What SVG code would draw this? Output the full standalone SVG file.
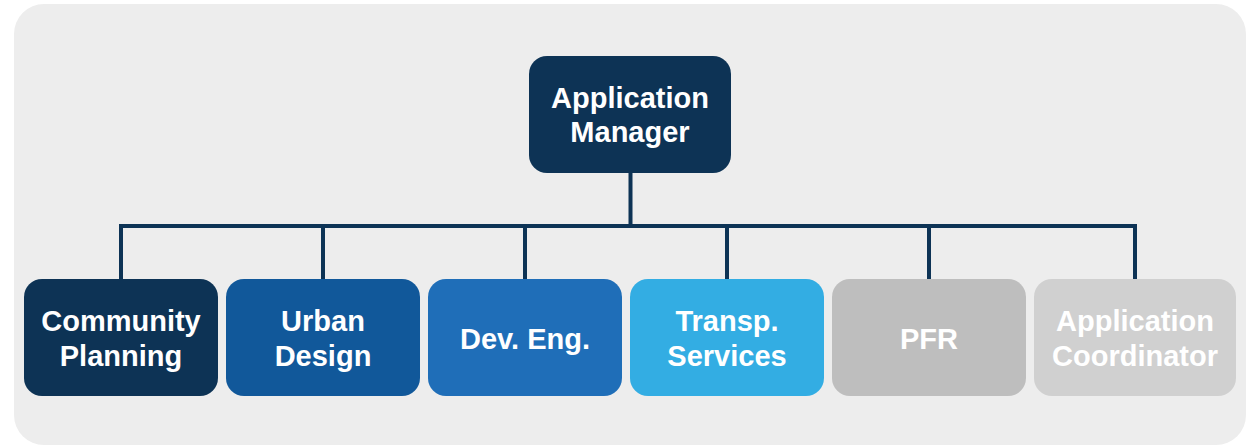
<svg xmlns="http://www.w3.org/2000/svg" width="1248" height="447" viewBox="0 0 1248 447">
  <style>
    .lbl { font-family: "Liberation Sans", Arial, sans-serif; font-weight: bold; font-size: 29px; fill: #ffffff; text-anchor: middle; }
    .wire { fill: none; stroke: #0d3355; stroke-width: 4; stroke-linecap: butt; stroke-linejoin: miter; }
  </style>
  <rect width="1248" height="447" fill="#ffffff"/>
  <!-- background panel -->
  <rect x="14" y="4" width="1232" height="441" rx="30" fill="#ededed"/>

  <!-- org chart connectors -->
  <g id="connectors">
    <path class="wire" d="M630.5 173 V226"/>
    <path class="wire" d="M121 281 V226 H1135 V281"/>
    <path class="wire" d="M323 226 V281 M525 226 V281 M727 226 V281 M929 226 V281"/>
  </g>

  <g id="application-manager">
    <rect x="529" y="56" width="202" height="117" rx="18" fill="#0d3355"/>
    <text class="lbl" x="630" y="108">Application</text>
    <text class="lbl" x="630" y="142">Manager</text>
  </g>

  <g id="community-planning">
    <rect x="24" y="279" width="194" height="117" rx="18" fill="#0d3355"/>
    <text class="lbl" x="121" y="331">Community</text>
    <text class="lbl" x="121" y="366">Planning</text>
  </g>

  <g id="urban-design">
    <rect x="226" y="279" width="194" height="117" rx="18" fill="#11589a"/>
    <text class="lbl" x="323" y="331">Urban</text>
    <text class="lbl" x="323" y="366">Design</text>
  </g>

  <g id="dev-eng">
    <rect x="428" y="279" width="194" height="117" rx="18" fill="#1f6eb8"/>
    <text class="lbl" x="525" y="349">Dev. Eng.</text>
  </g>

  <g id="transp-services">
    <rect x="630" y="279" width="194" height="117" rx="18" fill="#33ade3"/>
    <text class="lbl" x="727" y="331">Transp.</text>
    <text class="lbl" x="727" y="366">Services</text>
  </g>

  <g id="pfr">
    <rect x="832" y="279" width="194" height="117" rx="18" fill="#bebebe"/>
    <text class="lbl" x="929" y="349">PFR</text>
  </g>

  <g id="application-coordinator">
    <rect x="1034" y="279" width="202" height="117" rx="18" fill="#d0d0d0"/>
    <text class="lbl" x="1135" y="331">Application</text>
    <text class="lbl" x="1135" y="366">Coordinator</text>
  </g>
</svg>
